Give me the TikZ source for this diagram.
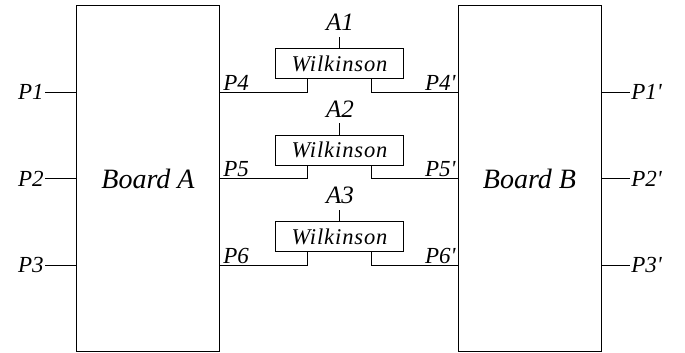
\documentclass[tikz,border=0pt]{standalone}
\usepackage{fontspec}
\newfontfamily\rmfnt{Liberation Serif}
\newfontfamily\rmwide{Liberation Serif}[LetterSpace=4]
\begin{document}
\begin{tikzpicture}[x=1pt,y=-1pt,
  line width=0.8pt,
  board/.style={draw, minimum width=143pt, minimum height=346pt, inner sep=0pt, font=\rmfnt\itshape\fontsize{28}{28}\selectfont},
  wbox/.style={draw, minimum width=128pt, minimum height=30pt, inner sep=0pt, font=\rmwide\itshape\fontsize{22.5}{22.5}\selectfont},
  port/.style={inner sep=1pt, font=\rmfnt\itshape\fontsize{23}{23}\selectfont},
  alab/.style={inner sep=0pt, font=\rmfnt\itshape\fontsize{25}{25}\selectfont}]
\useasboundingbox (0,0) rectangle (685,353);
\node[board] (bA) at (148,178.5) {Board A};
\node[board] (bB) at (529.5,178.5) {Board B};
% row lines
\coordinate (r1) at (0,92);
\coordinate (r2) at (0,178.5);
\coordinate (r3) at (0,265);
% left/right ports
\node[port, anchor=east] (p1) at (45,92) {P1};
\node[port, anchor=east] (p2) at (45,178.5) {P2};
\node[port, anchor=east] (p3) at (45,265) {P3};
\node[port, anchor=west] (q1) at (630,92) {P1\textquotesingle};
\node[port, anchor=west] (q2) at (630,178.5) {P2\textquotesingle};
\node[port, anchor=west] (q3) at (630,265) {P3\textquotesingle};
\foreach \i in {1,2,3}{
  \draw (bA.west |- p\i) -- (p\i.east);
  \draw (bB.east |- q\i) -- (q\i.west);
}
% Wilkinson boxes
\node[wbox] (w1) at (339.5,63.7) {Wilkinson};
\node[wbox] (w2) at (339.5,150.3) {Wilkinson};
\node[wbox] (w3) at (339.5,236.7) {Wilkinson};
\node[alab, anchor=base] (a1) at (340,30.5) {A1};
\node[alab, anchor=base] (a2) at (340,117) {A2};
\node[alab, anchor=base] (a3) at (340,203.5) {A3};
\foreach \i in {1,2,3}{
  \draw (w\i.north) -- ++(0,-11.5) coordinate (s\i);
  \draw ([xshift=-32pt]w\i.south) |- (bA.east |- r\i);
  \draw ([xshift=32pt]w\i.south) |- (bB.west |- r\i);
}
% inner port labels
\node[port, anchor=south west] (p4) at (222,92) {P4};
\node[port, anchor=south west] (p5) at (222,178.5) {P5};
\node[port, anchor=south west] (p6) at (222,265) {P6};
\node[port, anchor=south east] (q4) at (457,92) {P4\textquotesingle};
\node[port, anchor=south east] (q5) at (457,178.5) {P5\textquotesingle};
\node[port, anchor=south east] (q6) at (457,265) {P6\textquotesingle};
\end{tikzpicture}
\end{document}
